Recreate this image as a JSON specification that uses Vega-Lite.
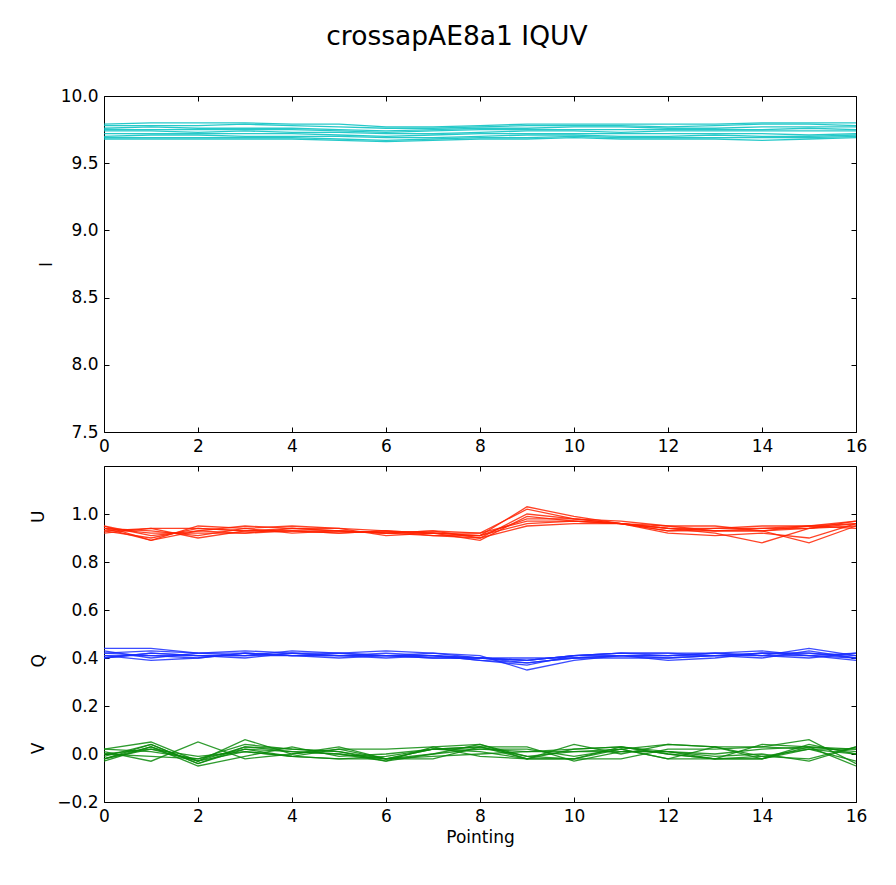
{
"$schema": "https://vega.github.io/schema/vega-lite/v6.json",
"background": "white",
"padding": {"left": 28, "top": 24, "right": 30, "bottom": 10},
"title": {"text": "crossapAE8a1 IQUV", "font": "DejaVu Sans", "fontSize": 26.5, "fontWeight": "normal", "color": "#000", "anchor": "middle", "dx": 9, "offset": 36},
"config": {
  "view": {"stroke": "#000", "strokeWidth": 1},
  "axis": {"labelFont": "DejaVu Sans", "labelFontSize": 17, "labelColor": "#000", "tickColor": "#000", "tickSize": -5, "domain": false, "grid": false, "labelFlush": false, "labelOverlap": false, "titleFont": "DejaVu Sans", "titleFontSize": 17, "titleFontWeight": "normal", "titleColor": "#000", "labelPadding": 11}
},
"data": {"values": [
{"c":"I","s":"I1","p":0,"v":9.79},{"c":"I","s":"I1","p":1,"v":9.80},{"c":"I","s":"I1","p":2,"v":9.80},{"c":"I","s":"I1","p":3,"v":9.80},{"c":"I","s":"I1","p":4,"v":9.79},{"c":"I","s":"I1","p":5,"v":9.79},{"c":"I","s":"I1","p":6,"v":9.77},{"c":"I","s":"I1","p":7,"v":9.77},{"c":"I","s":"I1","p":8,"v":9.78},{"c":"I","s":"I1","p":9,"v":9.79},{"c":"I","s":"I1","p":10,"v":9.79},{"c":"I","s":"I1","p":11,"v":9.79},{"c":"I","s":"I1","p":12,"v":9.79},{"c":"I","s":"I1","p":13,"v":9.79},{"c":"I","s":"I1","p":14,"v":9.80},{"c":"I","s":"I1","p":15,"v":9.80},{"c":"I","s":"I1","p":16,"v":9.80},
{"c":"I","s":"I2","p":0,"v":9.78},{"c":"I","s":"I2","p":1,"v":9.78},{"c":"I","s":"I2","p":2,"v":9.78},{"c":"I","s":"I2","p":3,"v":9.79},{"c":"I","s":"I2","p":4,"v":9.78},{"c":"I","s":"I2","p":5,"v":9.77},{"c":"I","s":"I2","p":6,"v":9.76},{"c":"I","s":"I2","p":7,"v":9.76},{"c":"I","s":"I2","p":8,"v":9.77},{"c":"I","s":"I2","p":9,"v":9.78},{"c":"I","s":"I2","p":10,"v":9.78},{"c":"I","s":"I2","p":11,"v":9.78},{"c":"I","s":"I2","p":12,"v":9.77},{"c":"I","s":"I2","p":13,"v":9.78},{"c":"I","s":"I2","p":14,"v":9.79},{"c":"I","s":"I2","p":15,"v":9.79},{"c":"I","s":"I2","p":16,"v":9.78},
{"c":"I","s":"I3","p":0,"v":9.76},{"c":"I","s":"I3","p":1,"v":9.77},{"c":"I","s":"I3","p":2,"v":9.76},{"c":"I","s":"I3","p":3,"v":9.76},{"c":"I","s":"I3","p":4,"v":9.76},{"c":"I","s":"I3","p":5,"v":9.75},{"c":"I","s":"I3","p":6,"v":9.74},{"c":"I","s":"I3","p":7,"v":9.75},{"c":"I","s":"I3","p":8,"v":9.76},{"c":"I","s":"I3","p":9,"v":9.76},{"c":"I","s":"I3","p":10,"v":9.77},{"c":"I","s":"I3","p":11,"v":9.77},{"c":"I","s":"I3","p":12,"v":9.76},{"c":"I","s":"I3","p":13,"v":9.76},{"c":"I","s":"I3","p":14,"v":9.77},{"c":"I","s":"I3","p":15,"v":9.77},{"c":"I","s":"I3","p":16,"v":9.77},
{"c":"I","s":"I4","p":0,"v":9.75},{"c":"I","s":"I4","p":1,"v":9.75},{"c":"I","s":"I4","p":2,"v":9.75},{"c":"I","s":"I4","p":3,"v":9.75},{"c":"I","s":"I4","p":4,"v":9.75},{"c":"I","s":"I4","p":5,"v":9.74},{"c":"I","s":"I4","p":6,"v":9.73},{"c":"I","s":"I4","p":7,"v":9.74},{"c":"I","s":"I4","p":8,"v":9.75},{"c":"I","s":"I4","p":9,"v":9.75},{"c":"I","s":"I4","p":10,"v":9.75},{"c":"I","s":"I4","p":11,"v":9.75},{"c":"I","s":"I4","p":12,"v":9.75},{"c":"I","s":"I4","p":13,"v":9.75},{"c":"I","s":"I4","p":14,"v":9.75},{"c":"I","s":"I4","p":15,"v":9.76},{"c":"I","s":"I4","p":16,"v":9.75},
{"c":"I","s":"I5","p":0,"v":9.74},{"c":"I","s":"I5","p":1,"v":9.74},{"c":"I","s":"I5","p":2,"v":9.73},{"c":"I","s":"I5","p":3,"v":9.74},{"c":"I","s":"I5","p":4,"v":9.73},{"c":"I","s":"I5","p":5,"v":9.73},{"c":"I","s":"I5","p":6,"v":9.72},{"c":"I","s":"I5","p":7,"v":9.72},{"c":"I","s":"I5","p":8,"v":9.73},{"c":"I","s":"I5","p":9,"v":9.74},{"c":"I","s":"I5","p":10,"v":9.74},{"c":"I","s":"I5","p":11,"v":9.73},{"c":"I","s":"I5","p":12,"v":9.74},{"c":"I","s":"I5","p":13,"v":9.74},{"c":"I","s":"I5","p":14,"v":9.74},{"c":"I","s":"I5","p":15,"v":9.74},{"c":"I","s":"I5","p":16,"v":9.74},
{"c":"I","s":"I6","p":0,"v":9.72},{"c":"I","s":"I6","p":1,"v":9.72},{"c":"I","s":"I6","p":2,"v":9.72},{"c":"I","s":"I6","p":3,"v":9.72},{"c":"I","s":"I6","p":4,"v":9.72},{"c":"I","s":"I6","p":5,"v":9.71},{"c":"I","s":"I6","p":6,"v":9.70},{"c":"I","s":"I6","p":7,"v":9.71},{"c":"I","s":"I6","p":8,"v":9.72},{"c":"I","s":"I6","p":9,"v":9.72},{"c":"I","s":"I6","p":10,"v":9.72},{"c":"I","s":"I6","p":11,"v":9.72},{"c":"I","s":"I6","p":12,"v":9.72},{"c":"I","s":"I6","p":13,"v":9.72},{"c":"I","s":"I6","p":14,"v":9.72},{"c":"I","s":"I6","p":15,"v":9.71},{"c":"I","s":"I6","p":16,"v":9.72},
{"c":"I","s":"I7","p":0,"v":9.70},{"c":"I","s":"I7","p":1,"v":9.71},{"c":"I","s":"I7","p":2,"v":9.71},{"c":"I","s":"I7","p":3,"v":9.70},{"c":"I","s":"I7","p":4,"v":9.70},{"c":"I","s":"I7","p":5,"v":9.70},{"c":"I","s":"I7","p":6,"v":9.69},{"c":"I","s":"I7","p":7,"v":9.69},{"c":"I","s":"I7","p":8,"v":9.70},{"c":"I","s":"I7","p":9,"v":9.71},{"c":"I","s":"I7","p":10,"v":9.71},{"c":"I","s":"I7","p":11,"v":9.70},{"c":"I","s":"I7","p":12,"v":9.70},{"c":"I","s":"I7","p":13,"v":9.71},{"c":"I","s":"I7","p":14,"v":9.70},{"c":"I","s":"I7","p":15,"v":9.70},{"c":"I","s":"I7","p":16,"v":9.71},
{"c":"I","s":"I8","p":0,"v":9.69},{"c":"I","s":"I8","p":1,"v":9.69},{"c":"I","s":"I8","p":2,"v":9.69},{"c":"I","s":"I8","p":3,"v":9.69},{"c":"I","s":"I8","p":4,"v":9.69},{"c":"I","s":"I8","p":5,"v":9.68},{"c":"I","s":"I8","p":6,"v":9.67},{"c":"I","s":"I8","p":7,"v":9.68},{"c":"I","s":"I8","p":8,"v":9.69},{"c":"I","s":"I8","p":9,"v":9.69},{"c":"I","s":"I8","p":10,"v":9.70},{"c":"I","s":"I8","p":11,"v":9.69},{"c":"I","s":"I8","p":12,"v":9.69},{"c":"I","s":"I8","p":13,"v":9.69},{"c":"I","s":"I8","p":14,"v":9.69},{"c":"I","s":"I8","p":15,"v":9.69},{"c":"I","s":"I8","p":16,"v":9.70},
{"c":"I","s":"I9","p":0,"v":9.68},{"c":"I","s":"I9","p":1,"v":9.68},{"c":"I","s":"I9","p":2,"v":9.68},{"c":"I","s":"I9","p":3,"v":9.68},{"c":"I","s":"I9","p":4,"v":9.68},{"c":"I","s":"I9","p":5,"v":9.67},{"c":"I","s":"I9","p":6,"v":9.66},{"c":"I","s":"I9","p":7,"v":9.67},{"c":"I","s":"I9","p":8,"v":9.68},{"c":"I","s":"I9","p":9,"v":9.68},{"c":"I","s":"I9","p":10,"v":9.69},{"c":"I","s":"I9","p":11,"v":9.68},{"c":"I","s":"I9","p":12,"v":9.68},{"c":"I","s":"I9","p":13,"v":9.68},{"c":"I","s":"I9","p":14,"v":9.67},{"c":"I","s":"I9","p":15,"v":9.68},{"c":"I","s":"I9","p":16,"v":9.69},
{"c":"U","s":"U1","p":0,"v":0.95},{"c":"U","s":"U1","p":1,"v":0.89},{"c":"U","s":"U1","p":2,"v":0.93},{"c":"U","s":"U1","p":3,"v":0.95},{"c":"U","s":"U1","p":4,"v":0.94},{"c":"U","s":"U1","p":5,"v":0.93},{"c":"U","s":"U1","p":6,"v":0.92},{"c":"U","s":"U1","p":7,"v":0.92},{"c":"U","s":"U1","p":8,"v":0.91},{"c":"U","s":"U1","p":9,"v":1.03},{"c":"U","s":"U1","p":10,"v":0.99},{"c":"U","s":"U1","p":11,"v":0.96},{"c":"U","s":"U1","p":12,"v":0.95},{"c":"U","s":"U1","p":13,"v":0.95},{"c":"U","s":"U1","p":14,"v":0.93},{"c":"U","s":"U1","p":15,"v":0.95},{"c":"U","s":"U1","p":16,"v":0.96},
{"c":"U","s":"U2","p":0,"v":0.94},{"c":"U","s":"U2","p":1,"v":0.89},{"c":"U","s":"U2","p":2,"v":0.95},{"c":"U","s":"U2","p":3,"v":0.94},{"c":"U","s":"U2","p":4,"v":0.95},{"c":"U","s":"U2","p":5,"v":0.94},{"c":"U","s":"U2","p":6,"v":0.93},{"c":"U","s":"U2","p":7,"v":0.92},{"c":"U","s":"U2","p":8,"v":0.92},{"c":"U","s":"U2","p":9,"v":1.02},{"c":"U","s":"U2","p":10,"v":0.98},{"c":"U","s":"U2","p":11,"v":0.96},{"c":"U","s":"U2","p":12,"v":0.94},{"c":"U","s":"U2","p":13,"v":0.94},{"c":"U","s":"U2","p":14,"v":0.95},{"c":"U","s":"U2","p":15,"v":0.95},{"c":"U","s":"U2","p":16,"v":0.97},
{"c":"U","s":"U3","p":0,"v":0.93},{"c":"U","s":"U3","p":1,"v":0.90},{"c":"U","s":"U3","p":2,"v":0.94},{"c":"U","s":"U3","p":3,"v":0.93},{"c":"U","s":"U3","p":4,"v":0.93},{"c":"U","s":"U3","p":5,"v":0.93},{"c":"U","s":"U3","p":6,"v":0.92},{"c":"U","s":"U3","p":7,"v":0.93},{"c":"U","s":"U3","p":8,"v":0.90},{"c":"U","s":"U3","p":9,"v":1.00},{"c":"U","s":"U3","p":10,"v":0.98},{"c":"U","s":"U3","p":11,"v":0.97},{"c":"U","s":"U3","p":12,"v":0.95},{"c":"U","s":"U3","p":13,"v":0.93},{"c":"U","s":"U3","p":14,"v":0.94},{"c":"U","s":"U3","p":15,"v":0.94},{"c":"U","s":"U3","p":16,"v":0.96},
{"c":"U","s":"U4","p":0,"v":0.94},{"c":"U","s":"U4","p":1,"v":0.92},{"c":"U","s":"U4","p":2,"v":0.92},{"c":"U","s":"U4","p":3,"v":0.92},{"c":"U","s":"U4","p":4,"v":0.94},{"c":"U","s":"U4","p":5,"v":0.94},{"c":"U","s":"U4","p":6,"v":0.91},{"c":"U","s":"U4","p":7,"v":0.92},{"c":"U","s":"U4","p":8,"v":0.89},{"c":"U","s":"U4","p":9,"v":0.99},{"c":"U","s":"U4","p":10,"v":0.97},{"c":"U","s":"U4","p":11,"v":0.96},{"c":"U","s":"U4","p":12,"v":0.94},{"c":"U","s":"U4","p":13,"v":0.92},{"c":"U","s":"U4","p":14,"v":0.88},{"c":"U","s":"U4","p":15,"v":0.94},{"c":"U","s":"U4","p":16,"v":0.95},
{"c":"U","s":"U5","p":0,"v":0.92},{"c":"U","s":"U5","p":1,"v":0.94},{"c":"U","s":"U5","p":2,"v":0.90},{"c":"U","s":"U5","p":3,"v":0.93},{"c":"U","s":"U5","p":4,"v":0.93},{"c":"U","s":"U5","p":5,"v":0.92},{"c":"U","s":"U5","p":6,"v":0.93},{"c":"U","s":"U5","p":7,"v":0.91},{"c":"U","s":"U5","p":8,"v":0.91},{"c":"U","s":"U5","p":9,"v":0.98},{"c":"U","s":"U5","p":10,"v":0.98},{"c":"U","s":"U5","p":11,"v":0.96},{"c":"U","s":"U5","p":12,"v":0.93},{"c":"U","s":"U5","p":13,"v":0.93},{"c":"U","s":"U5","p":14,"v":0.93},{"c":"U","s":"U5","p":15,"v":0.88},{"c":"U","s":"U5","p":16,"v":0.95},
{"c":"U","s":"U6","p":0,"v":0.94},{"c":"U","s":"U6","p":1,"v":0.93},{"c":"U","s":"U6","p":2,"v":0.91},{"c":"U","s":"U6","p":3,"v":0.94},{"c":"U","s":"U6","p":4,"v":0.92},{"c":"U","s":"U6","p":5,"v":0.93},{"c":"U","s":"U6","p":6,"v":0.92},{"c":"U","s":"U6","p":7,"v":0.93},{"c":"U","s":"U6","p":8,"v":0.92},{"c":"U","s":"U6","p":9,"v":0.97},{"c":"U","s":"U6","p":10,"v":0.97},{"c":"U","s":"U6","p":11,"v":0.96},{"c":"U","s":"U6","p":12,"v":0.92},{"c":"U","s":"U6","p":13,"v":0.91},{"c":"U","s":"U6","p":14,"v":0.92},{"c":"U","s":"U6","p":15,"v":0.90},{"c":"U","s":"U6","p":16,"v":0.96},
{"c":"U","s":"U7","p":0,"v":0.95},{"c":"U","s":"U7","p":1,"v":0.91},{"c":"U","s":"U7","p":2,"v":0.93},{"c":"U","s":"U7","p":3,"v":0.92},{"c":"U","s":"U7","p":4,"v":0.93},{"c":"U","s":"U7","p":5,"v":0.92},{"c":"U","s":"U7","p":6,"v":0.93},{"c":"U","s":"U7","p":7,"v":0.92},{"c":"U","s":"U7","p":8,"v":0.91},{"c":"U","s":"U7","p":9,"v":0.96},{"c":"U","s":"U7","p":10,"v":0.97},{"c":"U","s":"U7","p":11,"v":0.96},{"c":"U","s":"U7","p":12,"v":0.93},{"c":"U","s":"U7","p":13,"v":0.94},{"c":"U","s":"U7","p":14,"v":0.94},{"c":"U","s":"U7","p":15,"v":0.95},{"c":"U","s":"U7","p":16,"v":0.94},
{"c":"U","s":"U8","p":0,"v":0.93},{"c":"U","s":"U8","p":1,"v":0.94},{"c":"U","s":"U8","p":2,"v":0.94},{"c":"U","s":"U8","p":3,"v":0.93},{"c":"U","s":"U8","p":4,"v":0.94},{"c":"U","s":"U8","p":5,"v":0.93},{"c":"U","s":"U8","p":6,"v":0.92},{"c":"U","s":"U8","p":7,"v":0.91},{"c":"U","s":"U8","p":8,"v":0.90},{"c":"U","s":"U8","p":9,"v":0.95},{"c":"U","s":"U8","p":10,"v":0.96},{"c":"U","s":"U8","p":11,"v":0.96},{"c":"U","s":"U8","p":12,"v":0.94},{"c":"U","s":"U8","p":13,"v":0.93},{"c":"U","s":"U8","p":14,"v":0.93},{"c":"U","s":"U8","p":15,"v":0.94},{"c":"U","s":"U8","p":16,"v":0.97},
{"c":"Q","s":"Q1","p":0,"v":0.44},{"c":"Q","s":"Q1","p":1,"v":0.44},{"c":"Q","s":"Q1","p":2,"v":0.42},{"c":"Q","s":"Q1","p":3,"v":0.41},{"c":"Q","s":"Q1","p":4,"v":0.42},{"c":"Q","s":"Q1","p":5,"v":0.41},{"c":"Q","s":"Q1","p":6,"v":0.41},{"c":"Q","s":"Q1","p":7,"v":0.41},{"c":"Q","s":"Q1","p":8,"v":0.40},{"c":"Q","s":"Q1","p":9,"v":0.39},{"c":"Q","s":"Q1","p":10,"v":0.41},{"c":"Q","s":"Q1","p":11,"v":0.42},{"c":"Q","s":"Q1","p":12,"v":0.42},{"c":"Q","s":"Q1","p":13,"v":0.42},{"c":"Q","s":"Q1","p":14,"v":0.41},{"c":"Q","s":"Q1","p":15,"v":0.44},{"c":"Q","s":"Q1","p":16,"v":0.41},
{"c":"Q","s":"Q2","p":0,"v":0.42},{"c":"Q","s":"Q2","p":1,"v":0.43},{"c":"Q","s":"Q2","p":2,"v":0.42},{"c":"Q","s":"Q2","p":3,"v":0.43},{"c":"Q","s":"Q2","p":4,"v":0.42},{"c":"Q","s":"Q2","p":5,"v":0.42},{"c":"Q","s":"Q2","p":6,"v":0.43},{"c":"Q","s":"Q2","p":7,"v":0.42},{"c":"Q","s":"Q2","p":8,"v":0.40},{"c":"Q","s":"Q2","p":9,"v":0.38},{"c":"Q","s":"Q2","p":10,"v":0.40},{"c":"Q","s":"Q2","p":11,"v":0.41},{"c":"Q","s":"Q2","p":12,"v":0.40},{"c":"Q","s":"Q2","p":13,"v":0.41},{"c":"Q","s":"Q2","p":14,"v":0.42},{"c":"Q","s":"Q2","p":15,"v":0.42},{"c":"Q","s":"Q2","p":16,"v":0.40},
{"c":"Q","s":"Q3","p":0,"v":0.41},{"c":"Q","s":"Q3","p":1,"v":0.41},{"c":"Q","s":"Q3","p":2,"v":0.40},{"c":"Q","s":"Q3","p":3,"v":0.42},{"c":"Q","s":"Q3","p":4,"v":0.41},{"c":"Q","s":"Q3","p":5,"v":0.41},{"c":"Q","s":"Q3","p":6,"v":0.42},{"c":"Q","s":"Q3","p":7,"v":0.41},{"c":"Q","s":"Q3","p":8,"v":0.39},{"c":"Q","s":"Q3","p":9,"v":0.37},{"c":"Q","s":"Q3","p":10,"v":0.41},{"c":"Q","s":"Q3","p":11,"v":0.42},{"c":"Q","s":"Q3","p":12,"v":0.41},{"c":"Q","s":"Q3","p":13,"v":0.42},{"c":"Q","s":"Q3","p":14,"v":0.41},{"c":"Q","s":"Q3","p":15,"v":0.41},{"c":"Q","s":"Q3","p":16,"v":0.42},
{"c":"Q","s":"Q4","p":0,"v":0.40},{"c":"Q","s":"Q4","p":1,"v":0.42},{"c":"Q","s":"Q4","p":2,"v":0.41},{"c":"Q","s":"Q4","p":3,"v":0.41},{"c":"Q","s":"Q4","p":4,"v":0.43},{"c":"Q","s":"Q4","p":5,"v":0.42},{"c":"Q","s":"Q4","p":6,"v":0.41},{"c":"Q","s":"Q4","p":7,"v":0.42},{"c":"Q","s":"Q4","p":8,"v":0.41},{"c":"Q","s":"Q4","p":9,"v":0.35},{"c":"Q","s":"Q4","p":10,"v":0.39},{"c":"Q","s":"Q4","p":11,"v":0.41},{"c":"Q","s":"Q4","p":12,"v":0.41},{"c":"Q","s":"Q4","p":13,"v":0.41},{"c":"Q","s":"Q4","p":14,"v":0.40},{"c":"Q","s":"Q4","p":15,"v":0.43},{"c":"Q","s":"Q4","p":16,"v":0.40},
{"c":"Q","s":"Q5","p":0,"v":0.43},{"c":"Q","s":"Q5","p":1,"v":0.40},{"c":"Q","s":"Q5","p":2,"v":0.42},{"c":"Q","s":"Q5","p":3,"v":0.42},{"c":"Q","s":"Q5","p":4,"v":0.41},{"c":"Q","s":"Q5","p":5,"v":0.41},{"c":"Q","s":"Q5","p":6,"v":0.41},{"c":"Q","s":"Q5","p":7,"v":0.40},{"c":"Q","s":"Q5","p":8,"v":0.40},{"c":"Q","s":"Q5","p":9,"v":0.40},{"c":"Q","s":"Q5","p":10,"v":0.40},{"c":"Q","s":"Q5","p":11,"v":0.41},{"c":"Q","s":"Q5","p":12,"v":0.39},{"c":"Q","s":"Q5","p":13,"v":0.40},{"c":"Q","s":"Q5","p":14,"v":0.42},{"c":"Q","s":"Q5","p":15,"v":0.42},{"c":"Q","s":"Q5","p":16,"v":0.41},
{"c":"Q","s":"Q6","p":0,"v":0.40},{"c":"Q","s":"Q6","p":1,"v":0.42},{"c":"Q","s":"Q6","p":2,"v":0.41},{"c":"Q","s":"Q6","p":3,"v":0.40},{"c":"Q","s":"Q6","p":4,"v":0.42},{"c":"Q","s":"Q6","p":5,"v":0.41},{"c":"Q","s":"Q6","p":6,"v":0.40},{"c":"Q","s":"Q6","p":7,"v":0.41},{"c":"Q","s":"Q6","p":8,"v":0.40},{"c":"Q","s":"Q6","p":9,"v":0.39},{"c":"Q","s":"Q6","p":10,"v":0.41},{"c":"Q","s":"Q6","p":11,"v":0.42},{"c":"Q","s":"Q6","p":12,"v":0.42},{"c":"Q","s":"Q6","p":13,"v":0.41},{"c":"Q","s":"Q6","p":14,"v":0.41},{"c":"Q","s":"Q6","p":15,"v":0.40},{"c":"Q","s":"Q6","p":16,"v":0.42},
{"c":"Q","s":"Q7","p":0,"v":0.41},{"c":"Q","s":"Q7","p":1,"v":0.39},{"c":"Q","s":"Q7","p":2,"v":0.40},{"c":"Q","s":"Q7","p":3,"v":0.42},{"c":"Q","s":"Q7","p":4,"v":0.41},{"c":"Q","s":"Q7","p":5,"v":0.40},{"c":"Q","s":"Q7","p":6,"v":0.41},{"c":"Q","s":"Q7","p":7,"v":0.41},{"c":"Q","s":"Q7","p":8,"v":0.39},{"c":"Q","s":"Q7","p":9,"v":0.38},{"c":"Q","s":"Q7","p":10,"v":0.40},{"c":"Q","s":"Q7","p":11,"v":0.40},{"c":"Q","s":"Q7","p":12,"v":0.40},{"c":"Q","s":"Q7","p":13,"v":0.41},{"c":"Q","s":"Q7","p":14,"v":0.42},{"c":"Q","s":"Q7","p":15,"v":0.41},{"c":"Q","s":"Q7","p":16,"v":0.39},
{"c":"Q","s":"Q8","p":0,"v":0.42},{"c":"Q","s":"Q8","p":1,"v":0.41},{"c":"Q","s":"Q8","p":2,"v":0.41},{"c":"Q","s":"Q8","p":3,"v":0.41},{"c":"Q","s":"Q8","p":4,"v":0.41},{"c":"Q","s":"Q8","p":5,"v":0.42},{"c":"Q","s":"Q8","p":6,"v":0.41},{"c":"Q","s":"Q8","p":7,"v":0.40},{"c":"Q","s":"Q8","p":8,"v":0.40},{"c":"Q","s":"Q8","p":9,"v":0.39},{"c":"Q","s":"Q8","p":10,"v":0.41},{"c":"Q","s":"Q8","p":11,"v":0.41},{"c":"Q","s":"Q8","p":12,"v":0.41},{"c":"Q","s":"Q8","p":13,"v":0.42},{"c":"Q","s":"Q8","p":14,"v":0.43},{"c":"Q","s":"Q8","p":15,"v":0.41},{"c":"Q","s":"Q8","p":16,"v":0.40},
{"c":"V","s":"V1","p":0,"v":0.02},{"c":"V","s":"V1","p":1,"v":0.05},{"c":"V","s":"V1","p":2,"v":-0.03},{"c":"V","s":"V1","p":3,"v":0.06},{"c":"V","s":"V1","p":4,"v":0.00},{"c":"V","s":"V1","p":5,"v":0.02},{"c":"V","s":"V1","p":6,"v":-0.02},{"c":"V","s":"V1","p":7,"v":0.02},{"c":"V","s":"V1","p":8,"v":0.03},{"c":"V","s":"V1","p":9,"v":-0.02},{"c":"V","s":"V1","p":10,"v":0.04},{"c":"V","s":"V1","p":11,"v":0.00},{"c":"V","s":"V1","p":12,"v":0.04},{"c":"V","s":"V1","p":13,"v":0.03},{"c":"V","s":"V1","p":14,"v":0.03},{"c":"V","s":"V1","p":15,"v":0.06},{"c":"V","s":"V1","p":16,"v":-0.04},
{"c":"V","s":"V2","p":0,"v":-0.02},{"c":"V","s":"V2","p":1,"v":0.04},{"c":"V","s":"V2","p":2,"v":-0.04},{"c":"V","s":"V2","p":3,"v":0.03},{"c":"V","s":"V2","p":4,"v":0.02},{"c":"V","s":"V2","p":5,"v":0.01},{"c":"V","s":"V2","p":6,"v":-0.03},{"c":"V","s":"V2","p":7,"v":0.03},{"c":"V","s":"V2","p":8,"v":0.04},{"c":"V","s":"V2","p":9,"v":-0.01},{"c":"V","s":"V2","p":10,"v":-0.02},{"c":"V","s":"V2","p":11,"v":0.03},{"c":"V","s":"V2","p":12,"v":0.01},{"c":"V","s":"V2","p":13,"v":-0.02},{"c":"V","s":"V2","p":14,"v":0.04},{"c":"V","s":"V2","p":15,"v":0.03},{"c":"V","s":"V2","p":16,"v":-0.05},
{"c":"V","s":"V3","p":0,"v":0.01},{"c":"V","s":"V3","p":1,"v":-0.03},{"c":"V","s":"V3","p":2,"v":0.05},{"c":"V","s":"V3","p":3,"v":-0.02},{"c":"V","s":"V3","p":4,"v":0.00},{"c":"V","s":"V3","p":5,"v":0.03},{"c":"V","s":"V3","p":6,"v":-0.02},{"c":"V","s":"V3","p":7,"v":0.00},{"c":"V","s":"V3","p":8,"v":0.02},{"c":"V","s":"V3","p":9,"v":0.02},{"c":"V","s":"V3","p":10,"v":-0.01},{"c":"V","s":"V3","p":11,"v":0.02},{"c":"V","s":"V3","p":12,"v":-0.02},{"c":"V","s":"V3","p":13,"v":0.03},{"c":"V","s":"V3","p":14,"v":-0.02},{"c":"V","s":"V3","p":15,"v":0.04},{"c":"V","s":"V3","p":16,"v":0.00},
{"c":"V","s":"V4","p":0,"v":-0.03},{"c":"V","s":"V4","p":1,"v":0.03},{"c":"V","s":"V4","p":2,"v":-0.05},{"c":"V","s":"V4","p":3,"v":-0.01},{"c":"V","s":"V4","p":4,"v":0.03},{"c":"V","s":"V4","p":5,"v":-0.01},{"c":"V","s":"V4","p":6,"v":0.00},{"c":"V","s":"V4","p":7,"v":0.02},{"c":"V","s":"V4","p":8,"v":0.03},{"c":"V","s":"V4","p":9,"v":-0.01},{"c":"V","s":"V4","p":10,"v":0.01},{"c":"V","s":"V4","p":11,"v":0.02},{"c":"V","s":"V4","p":12,"v":0.04},{"c":"V","s":"V4","p":13,"v":0.03},{"c":"V","s":"V4","p":14,"v":-0.01},{"c":"V","s":"V4","p":15,"v":-0.02},{"c":"V","s":"V4","p":16,"v":0.03},
{"c":"V","s":"V5","p":0,"v":0.00},{"c":"V","s":"V5","p":1,"v":0.02},{"c":"V","s":"V5","p":2,"v":-0.03},{"c":"V","s":"V5","p":3,"v":0.03},{"c":"V","s":"V5","p":4,"v":0.01},{"c":"V","s":"V5","p":5,"v":0.00},{"c":"V","s":"V5","p":6,"v":-0.02},{"c":"V","s":"V5","p":7,"v":-0.02},{"c":"V","s":"V5","p":8,"v":0.03},{"c":"V","s":"V5","p":9,"v":0.03},{"c":"V","s":"V5","p":10,"v":-0.03},{"c":"V","s":"V5","p":11,"v":0.01},{"c":"V","s":"V5","p":12,"v":0.01},{"c":"V","s":"V5","p":13,"v":0.00},{"c":"V","s":"V5","p":14,"v":0.02},{"c":"V","s":"V5","p":15,"v":0.03},{"c":"V","s":"V5","p":16,"v":0.02},
{"c":"V","s":"V6","p":0,"v":0.02},{"c":"V","s":"V6","p":1,"v":0.01},{"c":"V","s":"V6","p":2,"v":-0.02},{"c":"V","s":"V6","p":3,"v":0.02},{"c":"V","s":"V6","p":4,"v":-0.01},{"c":"V","s":"V6","p":5,"v":0.02},{"c":"V","s":"V6","p":6,"v":0.02},{"c":"V","s":"V6","p":7,"v":0.03},{"c":"V","s":"V6","p":8,"v":-0.01},{"c":"V","s":"V6","p":9,"v":-0.02},{"c":"V","s":"V6","p":10,"v":0.02},{"c":"V","s":"V6","p":11,"v":0.03},{"c":"V","s":"V6","p":12,"v":0.00},{"c":"V","s":"V6","p":13,"v":-0.02},{"c":"V","s":"V6","p":14,"v":-0.02},{"c":"V","s":"V6","p":15,"v":0.03},{"c":"V","s":"V6","p":16,"v":0.01},
{"c":"V","s":"V7","p":0,"v":-0.02},{"c":"V","s":"V7","p":1,"v":0.02},{"c":"V","s":"V7","p":2,"v":-0.01},{"c":"V","s":"V7","p":3,"v":0.01},{"c":"V","s":"V7","p":4,"v":-0.01},{"c":"V","s":"V7","p":5,"v":-0.02},{"c":"V","s":"V7","p":6,"v":-0.01},{"c":"V","s":"V7","p":7,"v":0.02},{"c":"V","s":"V7","p":8,"v":0.02},{"c":"V","s":"V7","p":9,"v":0.01},{"c":"V","s":"V7","p":10,"v":0.01},{"c":"V","s":"V7","p":11,"v":0.01},{"c":"V","s":"V7","p":12,"v":0.01},{"c":"V","s":"V7","p":13,"v":-0.01},{"c":"V","s":"V7","p":14,"v":0.00},{"c":"V","s":"V7","p":15,"v":-0.03},{"c":"V","s":"V7","p":16,"v":0.03},
{"c":"V","s":"V8","p":0,"v":-0.01},{"c":"V","s":"V8","p":1,"v":0.04},{"c":"V","s":"V8","p":2,"v":-0.04},{"c":"V","s":"V8","p":3,"v":0.02},{"c":"V","s":"V8","p":4,"v":0.01},{"c":"V","s":"V8","p":5,"v":0.00},{"c":"V","s":"V8","p":6,"v":-0.03},{"c":"V","s":"V8","p":7,"v":0.00},{"c":"V","s":"V8","p":8,"v":0.04},{"c":"V","s":"V8","p":9,"v":-0.02},{"c":"V","s":"V8","p":10,"v":-0.02},{"c":"V","s":"V8","p":11,"v":-0.02},{"c":"V","s":"V8","p":12,"v":0.02},{"c":"V","s":"V8","p":13,"v":0.02},{"c":"V","s":"V8","p":14,"v":0.03},{"c":"V","s":"V8","p":15,"v":0.02},{"c":"V","s":"V8","p":16,"v":-0.03},
{"c":"V","s":"V9","p":0,"v":0.00},{"c":"V","s":"V9","p":1,"v":-0.01},{"c":"V","s":"V9","p":2,"v":-0.02},{"c":"V","s":"V9","p":3,"v":0.04},{"c":"V","s":"V9","p":4,"v":0.02},{"c":"V","s":"V9","p":5,"v":0.01},{"c":"V","s":"V9","p":6,"v":-0.02},{"c":"V","s":"V9","p":7,"v":-0.01},{"c":"V","s":"V9","p":8,"v":0.00},{"c":"V","s":"V9","p":9,"v":0.01},{"c":"V","s":"V9","p":10,"v":0.02},{"c":"V","s":"V9","p":11,"v":0.03},{"c":"V","s":"V9","p":12,"v":0.00},{"c":"V","s":"V9","p":13,"v":-0.02},{"c":"V","s":"V9","p":14,"v":-0.02},{"c":"V","s":"V9","p":15,"v":0.02},{"c":"V","s":"V9","p":16,"v":0.00},
{"c":"V","s":"V10","p":0,"v":-0.02},{"c":"V","s":"V10","p":1,"v":0.03},{"c":"V","s":"V10","p":2,"v":-0.03},{"c":"V","s":"V10","p":3,"v":0.01},{"c":"V","s":"V10","p":4,"v":-0.01},{"c":"V","s":"V10","p":5,"v":-0.02},{"c":"V","s":"V10","p":6,"v":-0.02},{"c":"V","s":"V10","p":7,"v":0.02},{"c":"V","s":"V10","p":8,"v":0.01},{"c":"V","s":"V10","p":9,"v":-0.02},{"c":"V","s":"V10","p":10,"v":-0.02},{"c":"V","s":"V10","p":11,"v":0.02},{"c":"V","s":"V10","p":12,"v":-0.02},{"c":"V","s":"V10","p":13,"v":-0.02},{"c":"V","s":"V10","p":14,"v":-0.01},{"c":"V","s":"V10","p":15,"v":0.02},{"c":"V","s":"V10","p":16,"v":0.02}
]},
"bounds": "flush",
"spacing": 34,
"vconcat": [
  {
    "width": 752, "height": 336,
    "transform": [{"filter": "datum.c === 'I'"}],
    "layer": [
      {
        "mark": {"type": "line", "strokeWidth": 1.3, "opacity": 0.85, "color": "#00bfbf"},
        "encoding": {
          "x": {"field": "p", "type": "quantitative", "scale": {"domain": [0, 16], "nice": false}, "axis": {"values": [0,2,4,6,8,10,12,14,16], "title": null}},
          "y": {"field": "v", "type": "quantitative", "scale": {"domain": [7.5, 10], "zero": false, "nice": false}, "axis": {"values": [7.5,8,8.5,9,9.5,10], "format": ".1f", "title": "I", "titlePadding": 5}},
          "detail": {"field": "s"}
        }
      },
      {
        "mark": {"type": "line", "opacity": 0},
        "encoding": {
          "x": {"field": "p", "type": "quantitative", "axis": {"orient": "top", "labels": false, "values": [0,2,4,6,8,10,12,14,16], "title": null}},
          "y": {"field": "v", "type": "quantitative", "axis": {"orient": "right", "labels": false, "values": [7.5,8,8.5,9,9.5,10], "title": null}},
          "detail": {"field": "s"}
        }
      }
    ],
    "resolve": {"axis": {"x": "independent", "y": "independent"}}
  },
  {
    "width": 752, "height": 336,
    "transform": [{"filter": "datum.c !== 'I'"}],
    "layer": [
      {
        "mark": {"type": "line", "strokeWidth": 1.3, "opacity": 0.85},
        "encoding": {
          "x": {"field": "p", "type": "quantitative", "scale": {"domain": [0, 16], "nice": false}, "axis": {"values": [0,2,4,6,8,10,12,14,16], "title": "Pointing", "titlePadding": 5}},
          "y": {"field": "v", "type": "quantitative", "scale": {"domain": [-0.2, 1.2], "zero": false, "nice": false}, "axis": {"values": [-0.2,0,0.2,0.4,0.6,0.8,1.0], "format": ".1f", "title": null}},
          "color": {"field": "c", "type": "nominal", "scale": {"domain": ["U", "Q", "V"], "range": ["#ff2200", "#1a2eff", "#0a8a0a"]}, "legend": null},
          "detail": {"field": "s"}
        }
      },
      {
        "mark": {"type": "line", "opacity": 0},
        "encoding": {
          "x": {"field": "p", "type": "quantitative", "axis": {"orient": "top", "labels": false, "values": [0,2,4,6,8,10,12,14,16], "title": null}},
          "y": {"field": "v", "type": "quantitative", "axis": {"orient": "right", "labels": false, "values": [-0.2,0,0.2,0.4,0.6,0.8,1.0], "title": null}},
          "detail": {"field": "s"}
        }
      },
      {
        "mark": {"type": "line", "opacity": 0},
        "encoding": {
          "y": {"field": "v", "type": "quantitative", "axis": {"orient": "left", "values": [0.99, 0.39, 0.025], "labelExpr": "datum.value > 0.7 ? 'U' : (datum.value > 0.2 ? 'Q' : 'V')", "labelAngle": -90, "labelAlign": "center", "labelBaseline": "middle", "ticks": false, "labelPadding": 66, "title": null}},
          "x": {"field": "p", "type": "quantitative", "axis": null},
          "detail": {"field": "s"}
        }
      }
    ],
    "resolve": {"axis": {"x": "independent", "y": "independent"}}
  }
]
}
